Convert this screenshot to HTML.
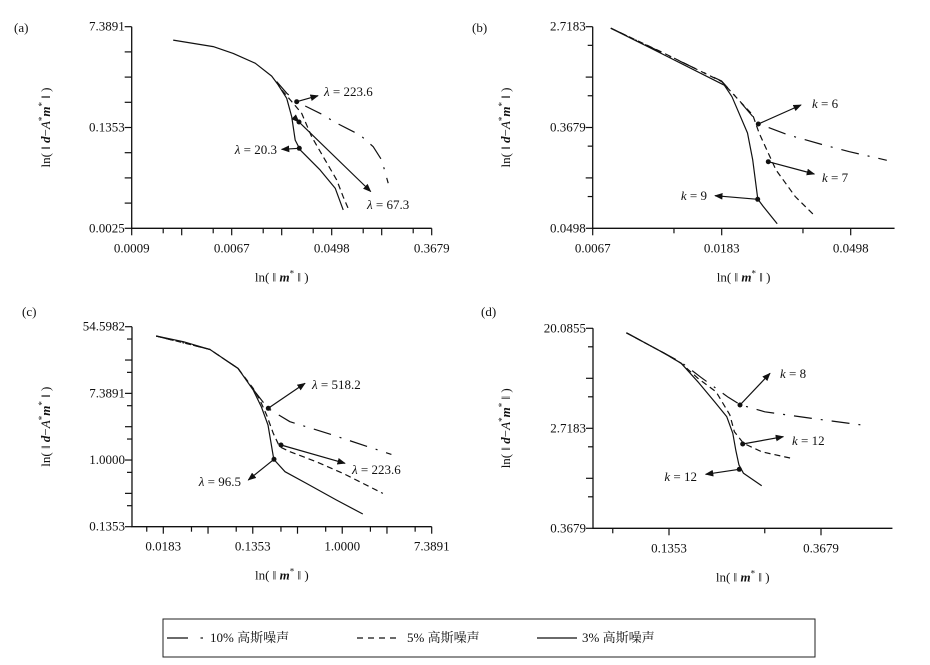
<!DOCTYPE html>
<html><head><meta charset="utf-8"><style>
body{margin:0;background:#fff;}
svg{display:block;}
svg, svg text{font-family:"Liberation Serif","Noto Serif CJK SC",serif;}
text{fill:#111;}
</style></head><body>
<svg id="fig" width="930" height="665" viewBox="0 0 930 665" font-family="Liberation Serif, Noto Serif CJK SC, serif">
<defs>
<marker id="ah" viewBox="0 0 10 10" refX="9" refY="5" markerWidth="7" markerHeight="7" orient="auto"><path d="M0,1 L10,5 L0,9 z" fill="#111"/></marker>
</defs>
<g id="legend">
<rect x="163" y="619" width="652" height="38" fill="none" stroke="#222" stroke-width="1"/>
<g><line x1="167" y1="638" x2="188" y2="638" stroke="#111" stroke-width="1.2"/><line x1="200.5" y1="638" x2="203" y2="638" stroke="#111" stroke-width="1.2"/><text x="210" y="642" font-size="13">10% 高斯噪声</text></g>
<g><line x1="357" y1="638" x2="398" y2="638" stroke="#111" stroke-width="1.2" stroke-dasharray="6,5"/><text x="407" y="642" font-size="13">5% 高斯噪声</text></g>
<g><line x1="537" y1="638" x2="577" y2="638" stroke="#111" stroke-width="1.2"/><text x="582" y="642" font-size="13">3% 高斯噪声</text></g>
</g>
</svg>
<script>
// ---- data (natural-log units) ----
// Panel (a)
const aSolidX=[-6.17,-5.37,-4.97,-4.53,-4.20,-4.07,-3.90,-3.80,-3.73,-3.63,-3.23,-2.93,-2.77];
const aSolidY=[1.47,1.21,0.94,0.55,0.04,-0.31,-0.84,-1.57,-2.50,-2.89,-3.69,-4.41,-5.27];
const aDashX=[-4.10,-4.03,-3.77,-3.60,-3.40,-3.17,-2.90,-2.77,-2.67];
const aDashY=[-0.18,-0.44,-1.04,-1.44,-2.37,-3.16,-4.08,-4.75,-5.21];
const aDotX=[-4.10,-3.90,-3.70,-3.23,-2.90,-2.43,-2.17,-2.00,-1.87];
const aDotY=[-0.18,-0.64,-0.98,-1.44,-1.83,-2.30,-2.76,-3.29,-4.21];
const aXTicks=["0.0009","0.0067","0.0498","0.3679"];
const aYTicks=["0.0025","0.1353","7.3891"];
// Panel (b)
const bSolidX=[-4.86,-4.57,-3.98,-3.92,-3.80,-3.76,-3.72,-3.68,-3.57];
const bSolidY=[0.97,0.60,-0.16,-0.39,-1.11,-1.64,-2.42,-2.56,-2.91];
const bDashX=[-4.86,-4.46,-4.00,-3.87,-3.76,-3.71,-3.58,-3.43,-3.28];
const bDashY=[0.97,0.49,-0.09,-0.45,-0.75,-1.11,-1.84,-2.37,-2.75];
const bDotX=[-4.86,-4.00,-3.87,-3.71,-3.48,-3.22,-3.01,-2.72];
const bDotY=[0.97,-0.08,-0.45,-0.93,-1.15,-1.34,-1.48,-1.65];
const bXTicks=["0.0067","0.0183","0.0498"];
const bYTicks=["0.0498","0.3679","2.7183"];
// Panel (c)
const cSolidX=[-4.16,-3.55,-2.96,-2.33,-1.99,-1.81,-1.66,-1.53,-1.28,-0.80,-0.13,0.46];
const cSolidY=[3.72,3.55,3.32,2.75,2.10,1.60,1.05,0.02,-0.35,-0.70,-1.20,-1.62];
const cDashX=[-4.16,-2.96,-2.33,-1.99,-1.84,-1.69,-1.54,-1.40,-1.17,-0.58,0.02,0.91];
const cDashY=[3.72,3.32,2.75,2.15,1.80,1.35,0.80,0.40,0.25,-0.05,-0.40,-1.00];
const cDotX=[-4.16,-2.96,-2.33,-1.99,-1.66,-1.17,-0.21,0.17,1.10];
const cDotY=[3.72,3.32,2.75,2.12,1.55,1.15,0.75,0.58,0.17];
const cXTicks=["0.0183","0.1353","1.0000","7.3891"];
const cYTicks=["0.1353","1.0000","7.3891","54.5982"];
// Panel (d)
const dSolidX=[-2.28,-2.03,-1.92,-1.81,-1.70,-1.62,-1.58,-1.56,-1.54,-1.51,-1.39];
const dSolidY=[2.91,2.50,2.30,1.93,1.53,1.23,0.90,0.55,0.27,0.10,-0.15];
const dDashX=[-2.28,-2.03,-1.92,-1.81,-1.69,-1.60,-1.57,-1.51,-1.39,-1.18];
const dDashY=[2.91,2.50,2.30,2.00,1.73,1.27,0.93,0.70,0.53,0.39];
const dDotX=[-2.28,-2.03,-1.92,-1.79,-1.70,-1.61,-1.53,-1.37,-1.04,-0.69];
const dDotY=[2.91,2.50,2.32,2.02,1.82,1.62,1.47,1.33,1.19,1.05];
const dXTicks=["0.1353","0.3679"];
const dYTicks=["0.3679","2.7183","20.0855"];

const NS="http://www.w3.org/2000/svg";
const svg=document.getElementById('fig');
function mk(tag,attrs,parent){const e=document.createElementNS(NS,tag);for(const k in attrs)e.setAttribute(k,attrs[k]);(parent||svg).appendChild(e);return e;}

function panel(cfg){
  const g=mk('g',{});
  
  
  const sx=v=>cfg.px0+(v-cfg.x0)*(cfg.px1-cfg.px0)/(cfg.x1-cfg.x0);
  const sy=v=>cfg.py0+(v-cfg.y0)*(cfg.py1-cfg.py0)/(cfg.y1-cfg.y0);
  const xL=sx(cfg.xmin), xR=sx(cfg.xmax), yB=sy(cfg.ymin), yT=sy(cfg.ymax);
  const ax=mk('path',{d:`M${xL},${yT} L${xL},${yB} L${xR},${yB}`,fill:'none',stroke:'#111','stroke-width':1.3},g);
  
  
  for(let n=Math.floor(cfg.xmin);n<=cfg.xmax;n++){
    [n,n+0.63].forEach((v,i)=>{ if(v<cfg.xmin-0.01||v>cfg.xmax+0.01)return;
      mk('line',{x1:sx(v),y1:yB,x2:sx(v),y2:yB+(i?5:7),stroke:'#111','stroke-width':1.2},g);});
  }
  for(let n=Math.floor(cfg.ymin);n<=cfg.ymax;n++){
    const list=cfg.yMinorHalf?[n,n+0.63]:[n];
    list.forEach((v,i)=>{ if(v<cfg.ymin-0.01||v>cfg.ymax+0.01)return;
      mk('line',{x1:xL-(i?5:7),y1:sy(v),x2:xL,y2:sy(v),stroke:'#111','stroke-width':1.2},g);});
  }
  cfg.xTickVals.forEach((v,i)=>{const t=mk('text',{x:sx(v),y:yB+24,'font-size':13,'text-anchor':'middle'},g);t.textContent=cfg.xTicks[i];
    });
  cfg.yTickVals.forEach((v,i)=>{const t=mk('text',{x:xL-7,y:sy(v)+4,'font-size':13,'text-anchor':'end'},g);t.textContent=cfg.yTicks[i];
    });
  const xt=mk('text',{x:(xL+xR)/2,y:yB+53,'font-size':13,'text-anchor':'middle'},g);
  xt.innerHTML='ln( ‖ <tspan font-weight="bold" font-style="italic">m</tspan><tspan font-size="9" dy="-5">*</tspan><tspan dy="5"> ‖ )</tspan>';
  
  const ty=(yT+yB)/2, tx=cfg.ytx;
  const yt=mk('text',{x:tx,y:ty,'font-size':13,'text-anchor':'middle',transform:`rotate(-90 ${tx} ${ty})`},g);
  yt.innerHTML='ln( ‖ <tspan font-weight="bold" font-style="italic">d</tspan>−<tspan font-style="italic">A</tspan><tspan font-size="9" dy="-5">*</tspan><tspan dy="5" font-weight="bold" font-style="italic">m</tspan><tspan font-size="9" dy="-5">*</tspan><tspan dy="5"> ‖ )</tspan>';
  
  const pl=mk('text',{x:cfg.lx,y:cfg.ly,'font-size':13},g);pl.textContent='('+cfg.id+')';
  
  const series=[[cfg.dotX,cfg.dotY,'18,9,2,9','series-10pct'],[cfg.dashX,cfg.dashY,'6,4','series-5pct'],[cfg.solidX,cfg.solidY,'','series-3pct']];
  series.forEach(s=>{
    const d=s[0].map((x,i)=>(i?'L':'M')+sx(x).toFixed(1)+','+sy(s[1][i]).toFixed(1)).join(' ');
    const p=mk('path',{d:d,fill:'none',stroke:'#111','stroke-width':1.2,'stroke-linejoin':'round'},g);
    if(s[2])p.setAttribute('stroke-dasharray',s[2]);
    
    
  });
  cfg.ann.forEach(a=>{
    const ag=mk('g',{},g);
    
    
    mk('circle',{cx:a[0],cy:a[1],r:2.5,fill:'#111'},ag);
    const ln=mk('line',{x1:a[0],y1:a[1],x2:a[2],y2:a[3],stroke:'#111','stroke-width':1.2,'marker-end':'url(#ah)'},ag);
    if(a[7])ln.setAttribute('marker-start','url(#ah)');
    const t=mk('text',{x:a[4],y:a[5],'font-size':13,'text-anchor':a[8]||'start'},ag);
    t.innerHTML='<tspan font-style="italic">'+a[6].split(' ')[0]+'</tspan> = '+a[6].split(' ')[1];
  });
}

panel({id:'a',px0:131.7,px1:431.7,x0:-7,x1:-1,py0:228.3,py1:26.7,y0:-6,y1:2,xmin:-7,xmax:-1,ymin:-6,ymax:2,
  xTickVals:[-7,-5,-3,-1],xTicks:aXTicks,yTickVals:[-6,-2,2],yTicks:aYTicks,yMinorHalf:false,ytx:50,lx:14,ly:32,
  solidX:aSolidX,solidY:aSolidY,dashX:aDashX,dashY:aDashY,dotX:aDotX,dotY:aDotY,
  ann:[[296.7,101.7,318,95.7,324,96,'λ 223.6'],[299.3,148.3,281.7,149.3,277,154,'λ 20.3',false,'end'],[299,122,370.7,191.5,367,209,'λ 67.3',true]]});
panel({id:'b',px0:592.7,px1:721.7,x0:-5,x1:-4,py0:228.3,py1:26.7,y0:-3,y1:1,xmin:-5,xmax:-2.66,ymin:-3,ymax:1,
  xTickVals:[-5,-4,-3],xTicks:bXTicks,yTickVals:[-3,-1,1],yTicks:bYTicks,yMinorHalf:true,ytx:510,lx:472,ly:32,
  solidX:bSolidX,solidY:bSolidY,dashX:bDashX,dashY:bDashY,dotX:bDotX,dotY:bDotY,
  ann:[[758.3,124,801,105,812,108,'k 6'],[768.3,161.7,814.3,174,822,182,'k 7'],[757.7,199.3,715,195.7,707,200,'k 9',false,'end']]});
panel({id:'c',px0:163.3,px1:431.7,x0:-4,x1:2,py0:526.7,py1:326.7,y0:-2,y1:4,xmin:-4.7,xmax:2,ymin:-2,ymax:4,
  xTickVals:[-4,-2,0,2],xTicks:cXTicks,yTickVals:[-2,0,2,4],yTicks:cYTicks,yMinorHalf:true,ytx:50,lx:22,ly:316,
  solidX:cSolidX,solidY:cSolidY,dashX:cDashX,dashY:cDashY,dotX:cDotX,dotY:cDotY,
  ann:[[268.3,408.3,305,383.3,312,389,'λ 518.2'],[281,445,345,463.3,352,474,'λ 223.6'],[274,459.3,248.3,480,241,486,'λ 96.5',false,'end']]});
panel({id:'d',px0:669,px1:821,x0:-2,x1:-1,py0:528.3,py1:328.3,y0:-1,y1:3,xmin:-2.5,xmax:-0.53,ymin:-1,ymax:3,
  xTickVals:[-2,-1],xTicks:dXTicks,yTickVals:[-1,1,3],yTicks:dYTicks,yMinorHalf:true,ytx:510,lx:481,ly:316,
  solidX:dSolidX,solidY:dSolidY,dashX:dDashX,dashY:dDashY,dotX:dDotX,dotY:dDotY,
  ann:[[740,405,770,373.3,780,378,'k 8'],[742.7,444,783.3,436.7,792,445,'k 12'],[739.3,469.3,705.7,474.3,697,481,'k 12',false,'end']]});
</script>
</body></html>
